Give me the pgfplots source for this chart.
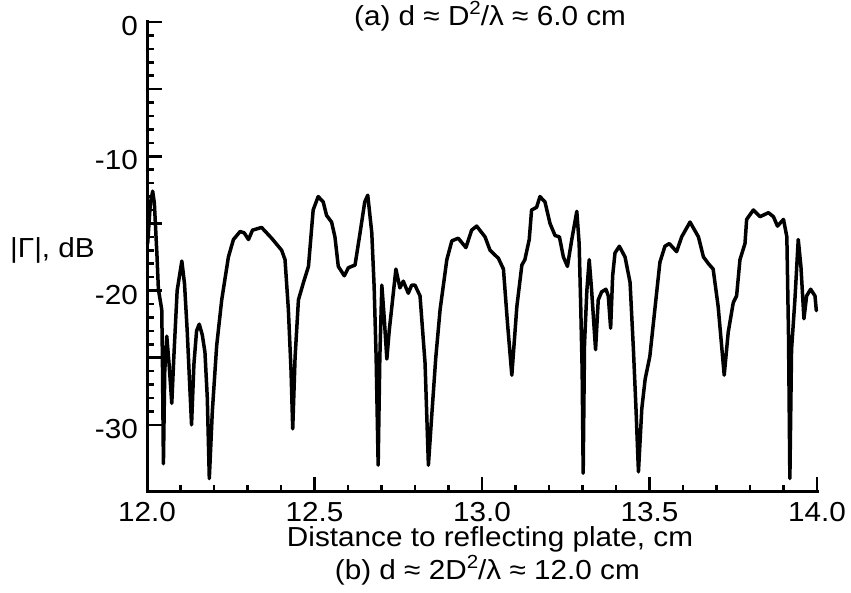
\documentclass[border=0pt]{standalone}
\usepackage{pgfplots}
\pgfplotsset{compat=1.18}
\usepackage{fontspec}
\setmainfont{Liberation Sans}[FakeStretch=1.08]
\newcommand{\sq}{\raisebox{0.40em}{\fontsize{19}{19}\selectfont 2}}
\begin{document}
\fontsize{27.5}{32}\selectfont
\begin{tikzpicture}
\useasboundingbox (0pt,0pt) rectangle (851pt,593pt);
\begin{axis}[
  at={(147pt,101pt)}, anchor=south west,
  scale only axis, width=670pt, height=470pt,
  xmin=12, xmax=14, ymin=-35, ymax=0,
  axis lines=left,
  axis line style={-, line width=3pt, line cap=rect},
  tick align=inside,
  major tick length=15pt, minor tick length=7pt,
  tick style={black, line width=2.5pt},
  xtick={12,12.5,13,13.5,14}, xticklabels={12.0,12.5,13.0,13.5,14.0},
  minor x tick num=4,
  ytick={-30,-25,-20,-15,-10,-5,0}, yticklabels={-30,,-20,,-10,,0},
  minor y tick num=4,
  xticklabel style={anchor=base, inner sep=0pt, yshift=-30pt},
  yticklabel style={anchor=east, inner sep=0pt, xshift=-9pt, yshift=-4pt},
  font=\fontsize{27.5}{32}\selectfont,
  clip=false,
]
\addplot[black, line width=3.5pt, line join=round, line cap=round] coordinates {
(12.002,-16.5) (12.010,-13.5) (12.017,-12.6) (12.022,-13.5) (12.030,-17.5)
(12.034,-19.9) (12.044,-21.4) (12.046,-25.0) (12.049,-32.9) (12.053,-26.0)
(12.059,-23.4) (12.066,-25.5) (12.074,-28.4) (12.080,-25.0) (12.090,-20.0)
(12.104,-17.8) (12.112,-19.5) (12.120,-23.0) (12.133,-30.0) (12.140,-25.5)
(12.148,-23.0) (12.156,-22.5) (12.165,-23.3) (12.173,-24.6) (12.180,-28.0)
(12.186,-34.0) (12.195,-29.0) (12.208,-24.1) (12.223,-20.7) (12.243,-17.5)
(12.258,-16.2) (12.278,-15.6) (12.290,-15.7) (12.303,-16.2) (12.315,-15.5)
(12.342,-15.3) (12.372,-16.1) (12.402,-17.0) (12.412,-17.7) (12.422,-21.4)
(12.430,-26.0) (12.435,-30.3) (12.442,-25.0) (12.452,-20.7) (12.467,-19.4)
(12.482,-18.2) (12.496,-14.0) (12.511,-13.0) (12.526,-13.4) (12.536,-14.4)
(12.551,-14.9) (12.561,-16.0) (12.571,-18.2) (12.589,-18.9) (12.601,-18.3)
(12.621,-18.1) (12.636,-15.7) (12.650,-13.4) (12.659,-12.9) (12.671,-15.7)
(12.678,-19.7) (12.684,-25.0) (12.690,-33.0) (12.695,-25.0) (12.701,-19.6)
(12.708,-22.0) (12.716,-25.1) (12.723,-23.0) (12.730,-21.4) (12.743,-18.4)
(12.755,-19.8) (12.765,-19.3) (12.780,-20.2) (12.790,-19.6) (12.800,-19.6)
(12.815,-20.4) (12.830,-25.4) (12.840,-33.0) (12.850,-29.3) (12.862,-25.0)
(12.875,-21.4) (12.895,-17.7) (12.910,-16.3) (12.929,-16.1) (12.952,-16.8)
(12.969,-15.5) (12.984,-15.2) (13.009,-16.0) (13.024,-17.0) (13.049,-17.6)
(13.064,-18.4) (13.076,-22.4) (13.089,-26.3) (13.104,-21.2) (13.119,-18.1)
(13.128,-17.7) (13.141,-16.2) (13.148,-14.0) (13.163,-13.8) (13.173,-13.0)
(13.188,-13.4) (13.203,-15.0) (13.218,-15.9) (13.231,-16.0) (13.243,-17.5)
(13.255,-18.2) (13.268,-16.2) (13.283,-14.1) (13.290,-16.5) (13.295,-21.5)
(13.299,-26.0) (13.302,-33.6) (13.306,-24.0) (13.313,-20.0) (13.320,-17.7)
(13.327,-19.9) (13.339,-24.4) (13.347,-20.7) (13.357,-20.1) (13.370,-19.9)
(13.377,-20.4) (13.384,-22.8) (13.390,-18.9) (13.397,-17.2) (13.410,-16.7)
(13.427,-17.5) (13.442,-19.4) (13.452,-24.4) (13.460,-29.0) (13.467,-33.5)
(13.477,-28.8) (13.487,-26.6) (13.501,-24.9) (13.516,-21.4) (13.531,-17.9)
(13.546,-16.7) (13.559,-16.5) (13.581,-17.1) (13.596,-16.0) (13.621,-14.9)
(13.646,-16.0) (13.661,-17.5) (13.676,-18.0) (13.690,-18.4) (13.705,-21.2)
(13.723,-26.3) (13.735,-23.1) (13.750,-20.9) (13.760,-20.4) (13.770,-17.7)
(13.785,-16.5) (13.790,-14.7) (13.810,-14.0) (13.830,-14.5) (13.855,-14.2)
(13.870,-14.5) (13.882,-15.2) (13.900,-14.7) (13.910,-16.0) (13.915,-23.4)
(13.919,-34.0) (13.924,-24.4) (13.934,-20.7) (13.944,-16.2) (13.952,-18.2)
(13.961,-22.1) (13.969,-20.4) (13.981,-19.9) (13.994,-20.4) (13.998,-21.5)
};
\node[anchor=base, inner sep=0pt] at (axis description cs:0.512,0.9915) {(a) d ≈ D\sq/λ ≈ 6.0 cm};
\node[anchor=base, inner sep=0pt] at (axis description cs:0.512,-0.1170) {Distance to reflecting plate, cm};
\node[anchor=base, inner sep=0pt] at (axis description cs:0.508,-0.1872) {(b) d ≈ 2D\sq/λ ≈ 12.0 cm};
\node[anchor=base west, inner sep=0pt] at (axis description cs:-0.2045,0.498) {|Γ|, dB};
\end{axis}
\end{tikzpicture}
\end{document}
